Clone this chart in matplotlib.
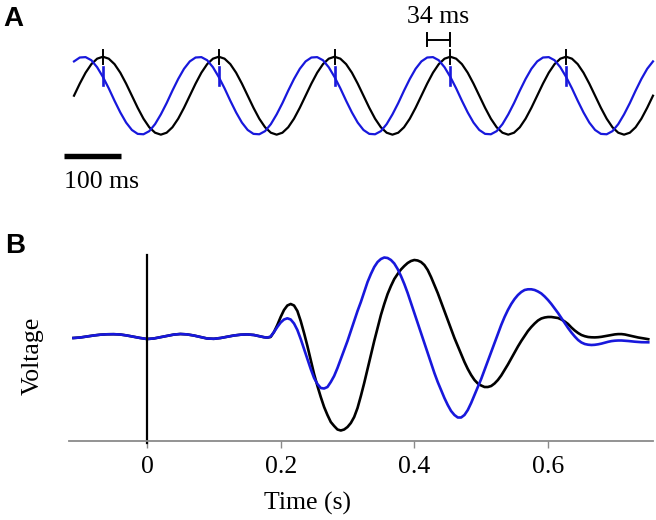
import numpy as np
import matplotlib
matplotlib.use("Agg")
import matplotlib.pyplot as plt

SERIF = "Liberation Serif"
BLUE = "#1818dc"
FS = 18.5

# --- Panel A: one cycle (10 ms steps) of the two oscillations
A_BLACK_CYCLE = [0.0, 0.31, 0.59, 0.81, 0.95, 1.0, 0.95, 0.81, 0.59, 0.31,
                 0.0, -0.31, -0.59, -0.81, -0.95, -1.0, -0.95, -0.81, -0.59, -0.31]
A_BLUE_CYCLE = [0.88, 0.98, 0.99, 0.91, 0.73, 0.48, 0.19, -0.13, -0.43, -0.69,
                -0.88, -0.98, -0.99, -0.91, -0.73, -0.48, -0.19, 0.13, 0.43, 0.69]
a_time_ms = np.arange(0, 1001, 10)
a_black = A_BLACK_CYCLE * 5 + [0.0]
a_blue = A_BLUE_CYCLE * 5 + [0.88]
PEAK_MS = [50, 250, 450, 650, 850]
BLACK_AT_PEAK = 1.0
BLUE_AT_PEAK = 0.48

# --- Panel B: pre-stimulus ripple (10 ms steps, -0.11..0.17 s), shared by both traces
base_time = np.round(np.arange(-11, 18) * 0.01, 3)
BASELINE = [0.000, 0.005, 0.015, 0.025, 0.033, 0.037, 0.038, 0.035, 0.025, 0.012,
            0.000, -0.010, -0.005, 0.008, 0.022, 0.034, 0.040, 0.036, 0.025, 0.010,
            -0.005, -0.008, 0.000, 0.012, 0.025, 0.033, 0.036, 0.030, 0.015]
# response (5 ms steps, 0.175..0.75 s)
tail_time = np.round(np.arange(35, 151) * 0.005, 3)
BLACK_TAIL = [0.008, 0.004, 0.010, 0.060, 0.130, 0.210, 0.280, 0.325, 0.340, 0.325,
              0.270, 0.170, 0.050, -0.080, -0.220, -0.360, -0.480, -0.590, -0.690, -0.770,
              -0.840, -0.880, -0.915, -0.925, -0.915, -0.890, -0.850, -0.790, -0.700, -0.580,
              -0.450, -0.310, -0.170, -0.030, 0.100, 0.230, 0.340, 0.440, 0.520, 0.590,
              0.640, 0.685, 0.720, 0.750, 0.770, 0.780, 0.775, 0.760, 0.730, 0.680,
              0.610, 0.530, 0.450, 0.360, 0.270, 0.180, 0.090, 0.000, -0.080, -0.160,
              -0.240, -0.310, -0.370, -0.420, -0.455, -0.475, -0.490, -0.490, -0.480, -0.455,
              -0.420, -0.375, -0.320, -0.265, -0.205, -0.145, -0.085, -0.030, 0.020, 0.070,
              0.110, 0.145, 0.175, 0.195, 0.205, 0.210, 0.210, 0.205, 0.200, 0.185,
              0.165, 0.140, 0.105, 0.075, 0.050, 0.030, 0.018, 0.010, 0.007, 0.006,
              0.008, 0.012, 0.018, 0.025, 0.031, 0.036, 0.039, 0.039, 0.035, 0.028,
              0.020, 0.012, 0.005, 0.000, -0.006, -0.012]
BLUE_TAIL = [0.008, 0.004, 0.015, 0.060, 0.110, 0.155, 0.185, 0.197, 0.185, 0.145,
             0.080, -0.010, -0.110, -0.210, -0.310, -0.400, -0.460, -0.500, -0.505, -0.490,
             -0.440, -0.380, -0.300, -0.210, -0.120, -0.030, 0.070, 0.170, 0.270, 0.360,
             0.460, 0.560, 0.640, 0.710, 0.760, 0.790, 0.805, 0.800, 0.780, 0.745,
             0.690, 0.620, 0.540, 0.450, 0.350, 0.250, 0.150, 0.050, -0.050, -0.150,
             -0.250, -0.350, -0.440, -0.520, -0.600, -0.670, -0.730, -0.770, -0.795, -0.795,
             -0.770, -0.720, -0.650, -0.570, -0.490, -0.410, -0.320, -0.230, -0.140, -0.050,
             0.040, 0.130, 0.210, 0.280, 0.340, 0.390, 0.430, 0.460, 0.480, 0.487,
             0.487, 0.480, 0.465, 0.445, 0.415, 0.380, 0.340, 0.295, 0.250, 0.200,
             0.150, 0.100, 0.055, 0.015, -0.020, -0.045, -0.060, -0.067, -0.070, -0.068,
             -0.063, -0.056, -0.047, -0.038, -0.031, -0.027, -0.025, -0.025, -0.027, -0.030,
             -0.034, -0.037, -0.040, -0.042, -0.043, -0.043]
b_time = np.concatenate([base_time, tail_time])
b_black = BASELINE + BLACK_TAIL
b_blue = BASELINE + BLUE_TAIL
B_TICKS = [0, 0.2, 0.4, 0.6]
B_TICKLABELS = ["0", "0.2", "0.4", "0.6"]

W, H = 656, 520
fig = plt.figure(figsize=(W / 100, H / 100), dpi=100)

# panel A
axA = fig.add_axes([0, 1 - 200 / H, 1, 200 / H])
axA.set_xlim(-127.8, 1005.2)
axA.set_ylim(-2.677, 2.456)
axA.axis("off")
axA.plot(a_time_ms, a_black, color="black", lw=1.6)
axA.plot(a_time_ms, a_blue, color=BLUE, lw=1.6)
for t in PEAK_MS:
    axA.plot([t, t], [BLACK_AT_PEAK - 0.18, BLACK_AT_PEAK + 0.18], color="black", lw=1.4)
    axA.plot([t, t], [BLUE_AT_PEAK - 0.21, BLUE_AT_PEAK + 0.25], color=BLUE, lw=1.9)
# scale bar
axA.plot([-18, 82], [-1.54, -1.54], color="black", lw=3.9, solid_capstyle="butt")
axA.text(-18, -2.37, "100 ms", family=SERIF, fontsize=FS, ha="left", va="baseline")
# 34 ms bracket
axA.plot([610, 650], [1.43, 1.43], color="black", lw=1.4)
axA.plot([610, 610], [1.27, 1.62], color="black", lw=1.4)
axA.plot([650, 650], [1.27, 1.62], color="black", lw=1.4)
axA.text(629, 1.87, "34 ms", family=SERIF, fontsize=FS, ha="center", va="baseline")

# panel B
axB = fig.add_axes([69 / W, 1 - 441 / H, 584 / W, 186 / H])
axB.set_xlim(-0.1167, 0.7571)
axB.set_ylim(-1.03, 0.83)
axB.plot(b_time, b_black, color="black", lw=1.9)
axB.plot(b_time, b_blue, color=BLUE, lw=1.9)
axB.axvline(0, ymin=-0.01, ymax=1, color="black", lw=1.6, clip_on=False)
for s in ["top", "right", "left"]:
    axB.spines[s].set_visible(False)
axB.spines["bottom"].set_color("#8a8a8a")
axB.spines["bottom"].set_linewidth(1.3)
axB.set_yticks([])
axB.set_xticks(B_TICKS)
axB.set_xticklabels(B_TICKLABELS, family=SERIF, fontsize=FS)
axB.tick_params(axis="x", direction="out", length=5, width=1, color="#8a8a8a", pad=6)

fig.text(33 / W, 1 - 356 / H, "Voltage", family=SERIF, fontsize=FS, rotation=90,
         ha="center", va="center")
fig.text(307.5 / W, 1 - 510 / H, "Time (s)", family=SERIF, fontsize=FS,
         ha="center", va="baseline")

# panel letters
fig.text(3 / W, 1 - 6 / H, "A", family="Liberation Sans", fontweight="bold",
         fontsize=20, ha="left", va="top")
fig.text(5 / W, 1 - 233 / H, "B", family="Liberation Sans", fontweight="bold",
         fontsize=20, ha="left", va="top")

fig.savefig("out.png", dpi=100)
